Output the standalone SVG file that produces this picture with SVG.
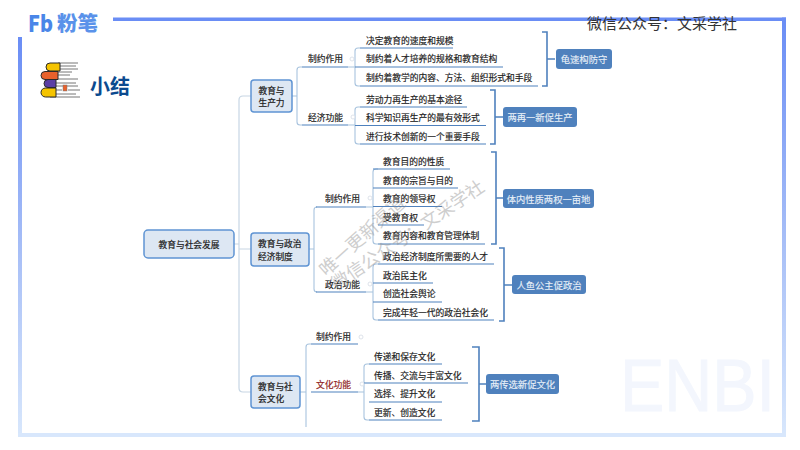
<svg xmlns="http://www.w3.org/2000/svg" width="800" height="450" viewBox="0 0 800 450">
<style>
text{font-family:"Noto Sans CJK SC","Noto Sans",sans-serif;dominant-baseline:central}
.t{font-size:8.75px;fill:#222;stroke:#222;stroke-width:.18}
.h{font-size:8.7px;fill:#222;stroke:#222;stroke-width:.22}
.n{fill:#dde7f3;stroke:#5f94d3;stroke-width:1.5}
.b{fill:#4f81bd}
.w{font-size:9.3px;fill:#e8f0f8;text-anchor:middle;stroke:#e8f0f8;stroke-width:.12}
.c{fill:none;stroke:#c7d6e4;stroke-width:1.2}
.s{fill:none;stroke:#a8c3de;stroke-width:1.1}
.u{fill:none;stroke:#4f81bd;stroke-width:1.2}
.k{fill:none;stroke:#4f81bd;stroke-width:1.6}
.d{fill:#fff;stroke:#d5dce4;stroke-width:.8}
.m{font-size:18px;fill:#8c8c8c;opacity:.42}
</style>
<defs>
<linearGradient id="fr" x1="0" y1="0" x2="0" y2="1"><stop offset="0" stop-color="#6a8df5"/><stop offset=".55" stop-color="#a9c0f7"/><stop offset="1" stop-color="#d8e7fc"/></linearGradient>
</defs>
<rect width="800" height="450" fill="#fff"/>
<g id="frame">
<rect x="113" y="17.500" width="673" height="3.500" fill="#6a8df5"/>
<rect x="782" y="17.500" width="4" height="419" fill="url(#fr)"/>
<rect x="18" y="37" width="4" height="400" fill="url(#fr)"/>
<rect x="18" y="433" width="768" height="4" fill="#d8e7fc"/>
</g>
<text x="620" y="385" font-size="75" textLength="155" lengthAdjust="spacingAndGlyphs" style='font-family:"Liberation Sans",sans-serif' fill="#f3f6fd" stroke="#f3f6fd" stroke-width="1">ENBI</text>
<g id="logo">
<text x="28" y="21.500" font-size="23" font-weight="900" fill="#4a86e8" textLength="25" lengthAdjust="spacingAndGlyphs">Fb</text>
<text x="57" y="21.500" font-size="20.500" font-weight="900" fill="#5a92ea">粉笔</text>
</g>
<text x="587" y="22" font-size="15" fill="#333">微信公众号：文采学社</text>
<g id="icon" stroke="#2b2b2b" stroke-width="1">
<path d="M58 63H78M60 66H76M58 69H78M58 72H72M56 75H70M56 79H78M56 83H76M56 86H78M56 90H62M68 90H80M56 94H76M50 97H80" stroke="#777" fill="none"/>
<path d="M60 63H50A4 4 0 0 0 50 71H60Z" fill="#f5c400"/>
<path d="M58 71.500H45A4 4 0 0 0 45 79.500H58Z" fill="#e8612c"/>
<path d="M56 79.500H48A4 4 0 0 0 48 87.500H56Z" fill="#5b3fa5"/>
<path d="M56 88H45.500A4.500 4.500 0 0 0 45.500 97H56Z" fill="#f5c400"/>
<rect x="63" y="85" width="4" height="6" fill="#e8612c" stroke="#777" stroke-width=".5"/>
</g>
<text x="90" y="85" font-size="20" font-weight="700" fill="#0b4a8f">小结</text>
<g id="connectors">
<path class="c" d="M234 244H239M251 96H243Q239 96 239 100V388Q239 392 243 392H251M239 249H251"/>
<path class="s" d="M292 96H297M302 67H300Q297 67 297 70V122Q297 125 300 125H302M348 67H355M348 125H355"/>
<path class="u" d="M302 67H348M302 125H348"/>
<path class="s" d="M360 48H358Q355 48 355 51V83Q355 86 358 86H360M360 107H358Q355 107 355 110V141Q355 144 358 144H360"/>
<path class="u" d="M360 48H453M355 67H503M360 86H538M360 107H467M355 125.500H486M360 144H486"/>
<path class="k" d="M542 32H547V86H542M547 59H555M490 90H495V144H490M495 117H503"/>
<path class="s" d="M309 249H314M316 207H317Q314 207 314 210V289Q314 292 317 292M366 207H373M366 292H373"/>
<path class="u" d="M316 207H366M316 292H366"/>
<path class="s" d="M378 169H376Q373 169 373 172V241Q373 244 376 244H378M378 264H376Q373 264 373 267V317Q373 320 376 320H378"/>
<path class="u" d="M373 169H450M373 188H458M373 206.500H442M378 225H424M378 244H485M378 264H494M373 283H433M373 302H442M378 320H494"/>
<path class="k" d="M491 152H496V244H491M496 198H503M499 248H504V321H499M504 285H512"/>
<path class="s" d="M300 392H306M311 344H309Q306 344 306 347V427M358 392H364"/>
<path class="u" d="M311 344H358M311 392H358"/>
<path class="s" d="M369 364H367Q364 364 364 367V417Q364 420 367 420H369"/>
<path class="u" d="M369 364H442M364 383H468M369 402H442M369 420H442"/>
<path class="k" d="M472 347H479V421H472M479 384H486"/>
<circle class="d" cx="361" cy="337" r="2"/><circle class="d" cx="352" cy="59" r="2"/><circle class="d" cx="353" cy="117" r="2"/><circle class="d" cx="370" cy="198" r="2"/><circle class="d" cx="370" cy="284" r="2"/><circle class="d" cx="362" cy="384" r="2"/>
</g>
<g id="root"><rect class="n" x="144" y="230" width="90" height="28" rx="4"/><text class="h" x="189" y="244" text-anchor="middle">教育与社会发展</text></g>
<g id="n1"><rect class="n" x="251" y="80" width="41" height="32" rx="3"/><text class="h" text-anchor="middle"><tspan x="271.500" y="89.700">教育与</tspan><tspan x="271.500" y="102.400">生产力</tspan></text></g>
<g id="n2"><rect class="n" x="251" y="233" width="58" height="33" rx="3"/><text class="h"><tspan x="258" y="243.200">教育与政治</tspan><tspan x="258" y="255.900">经济制度</tspan></text></g>
<g id="n3"><rect class="n" x="251" y="376" width="49" height="32" rx="3"/><text class="h"><tspan x="258" y="385.700">教育与社</tspan><tspan x="258" y="398.400">会文化</tspan></text></g>
<g id="b1-labels">
<text class="t" x="308" y="58.500">制约作用</text><text class="t" x="308" y="117">经济功能</text>
<text class="t" x="366" y="40.500">决定教育的速度和规模</text><text class="t" x="366" y="58.500">制约着人才培养的规格和教育结构</text><text class="t" x="366" y="77">制约着教学的内容、方法、组织形式和手段</text>
<text class="t" x="366" y="99">劳动力再生产的基本途径</text><text class="t" x="366" y="117">科学知识再生产的最有效形式</text><text class="t" x="366" y="136">进行技术创新的一个重要手段</text>
</g>
<g id="b2-labels">
<text class="t" x="325" y="198.500">制约作用</text><text class="t" x="325" y="284.500">政治功能</text>
<text class="t" x="383" y="161.500">教育目的的性质</text><text class="t" x="383" y="180">教育的宗旨与目的</text><text class="t" x="383" y="198.500">教育的领导权</text><text class="t" x="383" y="217">受教育权</text><text class="t" x="383" y="235.500">教育内容和教育管理体制</text>
<text class="t" x="383" y="256.500">政治经济制度所需要的人才</text><text class="t" x="383" y="275">政治民主化</text><text class="t" x="383" y="293.500">创造社会舆论</text><text class="t" x="383" y="312">完成年轻一代的政治社会化</text>
</g>
<g id="b3-labels">
<text class="t" x="316" y="336.500">制约作用</text><text class="t" x="316" y="384" style="fill:#8f1d1d;stroke:#8f1d1d">文化功能</text>
<text class="t" x="374" y="356.500">传递和保存文化</text><text class="t" x="374" y="375">传播、交流与丰富文化</text><text class="t" x="374" y="393.500">选择、提升文化</text><text class="t" x="374" y="412">更新、创造文化</text>
</g>
<g id="m1"><rect class="b" x="556" y="49" width="56" height="20" rx="3"/><text class="w" x="584" y="59">龟速构防守</text></g>
<g id="m2"><rect class="b" x="503" y="107" width="74" height="20" rx="3"/><text class="w" x="540" y="117">两再一新促生产</text></g>
<g id="m3"><rect class="b" x="503" y="189" width="91" height="19" rx="3"/><text class="w" x="548.500" y="198.500">体内性质两权一亩地</text></g>
<g id="m4"><rect class="b" x="512" y="275" width="74" height="19" rx="3"/><text class="w" x="549" y="284.500">人鱼公主促政治</text></g>
<g id="m5"><rect class="b" x="486" y="374" width="73" height="20" rx="3"/><text class="w" x="522.500" y="384">两传选新促文化</text></g>
<text class="m" transform="translate(321 271) rotate(-42)">唯一更新渠道</text>
<text class="m" transform="translate(332 284) rotate(-34)">微信公众号：文采学社</text>
</svg>
